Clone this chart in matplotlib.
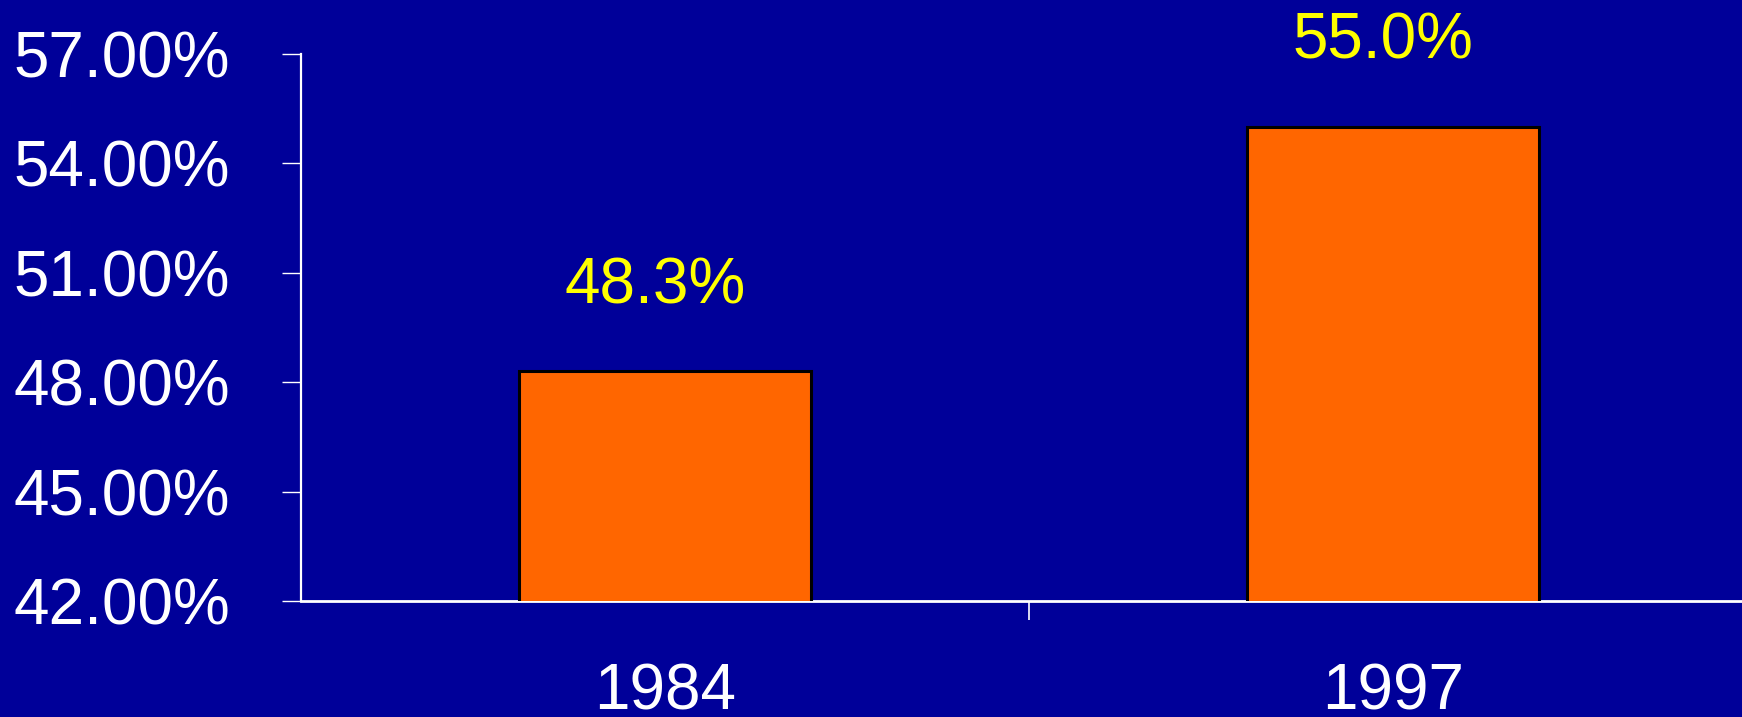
import matplotlib
matplotlib.use('Agg')
import matplotlib.pyplot as plt
from matplotlib.ticker import FixedLocator, FuncFormatter

years = ['1984', '1997']
shares = [48.3, 55.0]
y_ticks = [42, 45, 48, 51, 54, 57]

BG = '#000099'
BAR = '#FF6600'
LABEL = '#FFFF00'

plt.rcParams['font.family'] = ['Liberation Sans', 'DejaVu Sans']

fig = plt.figure(figsize=(17.42, 7.17), dpi=100, facecolor=BG)
ax = fig.add_axes([0.1728, 0.1618, 0.8358, 0.7629], facecolor=BG)

x = list(range(len(years)))
ax.bar(x, shares, width=0.4, color=BAR, edgecolor='black', linewidth=2.2, zorder=3)

for xi, v in zip(x, shares):
    ax.annotate(f'{v:.1f}%', (xi, v), xytext=(-7, 49), textcoords='offset points',
                ha='center', va='baseline', color=LABEL, fontsize=46)

ax.set_xlim(-0.5, 1.5)
ax.set_ylim(42, 57)
ax.set_yticks(y_ticks)
ax.yaxis.set_major_formatter(FuncFormatter(lambda v, p: f'{v:.2f}%'))
ax.set_xticks(x)
ax.set_xticklabels(years)
ax.xaxis.set_minor_locator(FixedLocator([0.5]))

ax.tick_params(axis='y', colors='white', labelcolor='white', labelsize=46,
               length=14, width=1.0, pad=37, direction='out')
ax.tick_params(axis='x', which='major', colors='white', labelcolor='white', labelsize=46,
               length=0, pad=44)
ax.tick_params(axis='x', which='minor', colors='white', length=14, width=1.2, direction='out')

for side in ['top', 'right']:
    ax.spines[side].set_visible(False)
ax.spines['left'].set_color('white')
ax.spines['left'].set_linewidth(1.6)
ax.spines['bottom'].set_color('white')
ax.spines['bottom'].set_linewidth(2.0)

fig.savefig('out.png', facecolor=BG)
